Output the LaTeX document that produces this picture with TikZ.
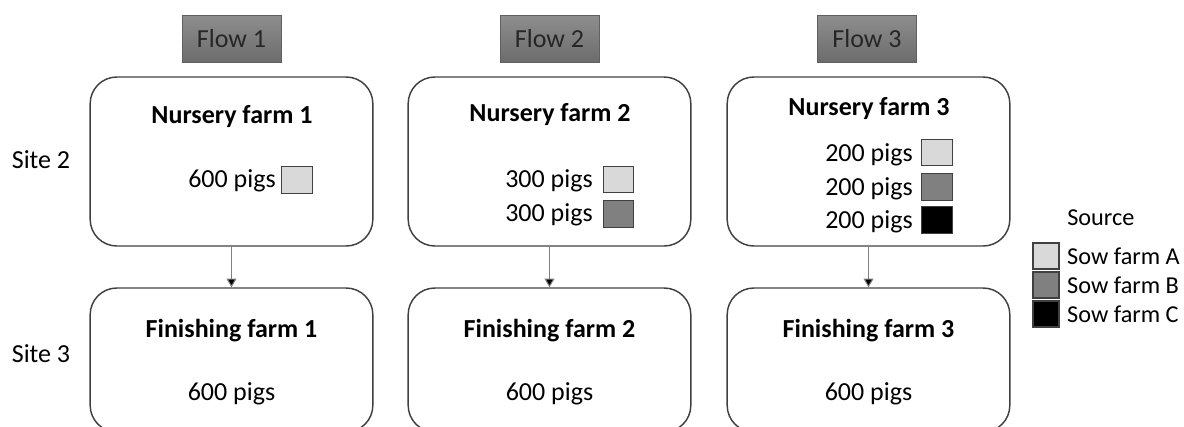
\documentclass[tikz,border=0pt]{standalone}
\usepackage{fontspec}
\setmainfont{Carlito}
\usetikzlibrary{arrows.meta, positioning}
\definecolor{fedge}{HTML}{404040}
\definecolor{sowA}{HTML}{D9D9D9}
\definecolor{sowB}{HTML}{808080}
\definecolor{sowC}{HTML}{000000}
\definecolor{flowtop}{HTML}{8E8E8E}
\definecolor{flowbot}{HTML}{6C6C6C}

\begin{document}
\begin{tikzpicture}[
    x=0.75pt, y=-0.75pt,
    txt/.style={inner sep=0pt, font=\fontsize{19.5pt}{23pt}\selectfont},
    smalltxt/.style={inner sep=0pt, font=\fontsize{18.2pt}{22pt}\selectfont},
    farmtitle/.style={txt, anchor=base, font=\bfseries\fontsize{19.5pt}{23pt}\selectfont},
    farm/.style={draw=fedge, line width=1.1pt, rounded corners=20pt, minimum width=212pt, inner sep=0pt},
    flow/.style={txt, draw=gray!75!black, top color=flowtop, bottom color=flowbot, minimum width=74pt, minimum height=35pt, text=black!85},
    swatch/.style={draw=fedge, line width=0.8pt, minimum width=23pt, minimum height=20pt, inner sep=0pt},
    legendbox/.style={swatch, minimum width=19.5pt, minimum height=19.5pt},
    flowarrow/.style={draw=gray, line width=0.75pt, -{Triangle[width=7.5pt,length=6.5pt,fill=black]}},
]
    \useasboundingbox (0,0) rectangle (1184,426);

    % Flow headers
    \node[flow] (flow1) at (231.5,38.5) {Flow 1};
    \node[flow] (flow2) at (549.5,38.5) {Flow 2};
    \node[flow] (flow3) at (867,38.5) {Flow 3};

    % Site labels
    \node[txt, anchor=base] (site2) at (41,168) {Site 2};
    \node[txt, anchor=base] (site3) at (41,362) {Site 3};

    % Site 2: nursery farms
    \node[farm, minimum height=126.75pt] (nur1) at (231.5,161.5) {};
    \node[farm, minimum height=126.75pt] (nur2) at (549.5,161.5) {};
    \node[farm, minimum height=126.75pt] (nur3) at (868.5,161.5) {};
    \node[farmtitle] (nt1) at (232,123) {Nursery farm 1};
    \node[farmtitle] (nt2) at (550,121) {Nursery farm 2};
    \node[farmtitle] (nt3) at (869,115) {Nursery farm 3};

    \node[txt, anchor=base east] (p1a) at (276,187) {600 pigs};
    \node[swatch, fill=sowA] (s1a) at (297,180) {};

    \node[txt, anchor=base east] (p2a) at (593,187) {300 pigs};
    \node[txt, anchor=base east] (p2b) at (593,221) {300 pigs};
    \node[swatch, fill=sowA] (s2a) at (618.5,179.5) {};
    \node[swatch, fill=sowB] (s2b) at (618.5,214) {};

    \node[txt, anchor=base east] (p3a) at (913,161) {200 pigs};
    \node[txt, anchor=base east] (p3b) at (913,195) {200 pigs};
    \node[txt, anchor=base east] (p3c) at (913,228) {200 pigs};
    \node[swatch, fill=sowA] (s3a) at (937,152.5) {};
    \node[swatch, fill=sowB] (s3b) at (937,187) {};
    \node[swatch, fill=sowC] (s3c) at (937,220) {};

    % Site 3: finishing farms
    \node[farm, minimum height=108pt] (fin1) at (231.5,360) {};
    \node[farm, minimum height=108pt] (fin2) at (549.5,360) {};
    \node[farm, minimum height=108pt] (fin3) at (868.5,360) {};
    \node[farmtitle] (ft1) at (231.5,337) {Finishing farm 1};
    \node[farmtitle] (ft2) at (549.5,337) {Finishing farm 2};
    \node[farmtitle] (ft3) at (868.5,337) {Finishing farm 3};
    \node[txt, anchor=base] (fp1) at (231.5,400) {600 pigs};
    \node[txt, anchor=base] (fp2) at (549.5,400) {600 pigs};
    \node[txt, anchor=base] (fp3) at (868.5,400) {600 pigs};

    % Pig movements
    \draw[flowarrow] (nur1) -- (fin1);
    \draw[flowarrow] (nur2) -- (fin2);
    \draw[flowarrow] (nur3) -- (fin3);

    % Legend
    \node[smalltxt, anchor=base west] (src) at (1067,225) {Source};
    \node[legendbox, fill=sowA] (kA) at (1046,256) {};
    \node[legendbox, fill=sowB] (kB) at (1046,285) {};
    \node[legendbox, fill=sowC] (kC) at (1046,314) {};
    \node[smalltxt, right=5.5pt of kA] (lA) {Sow farm A};
    \node[smalltxt, right=5.5pt of kB] (lB) {Sow farm B};
    \node[smalltxt, right=5.5pt of kC] (lC) {Sow farm C};
\end{tikzpicture}
\end{document}
